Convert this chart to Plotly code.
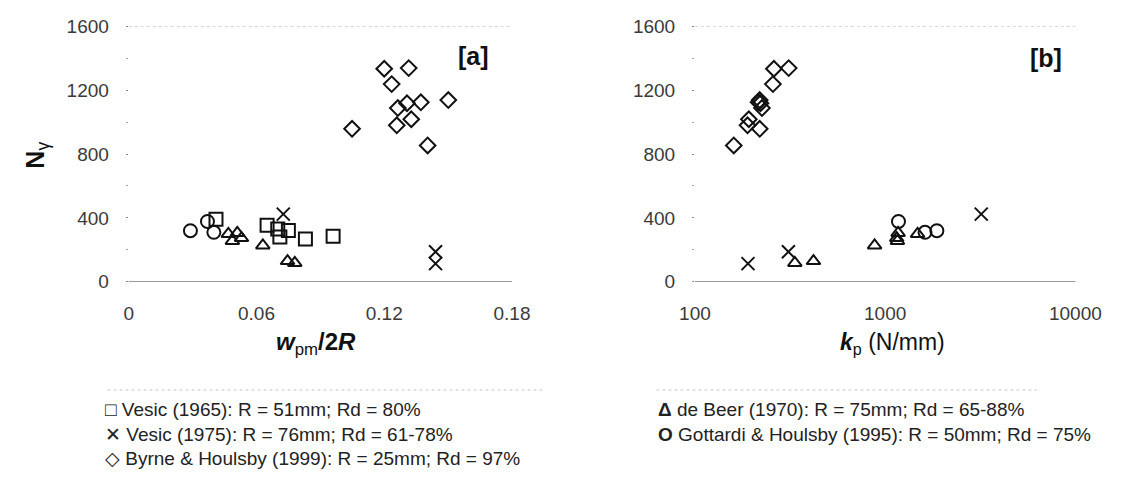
import plotly.graph_objects as go

W, H = 1137, 490

# Vesic (1965): R = 51mm
ves65_w = [0.041, 0.065, 0.070, 0.071, 0.075, 0.083, 0.096]
ves65_N = [392, 354, 330, 280, 322, 268, 286]

# de Beer (1970): R = 75mm
beer_w = [0.0468, 0.0487, 0.051, 0.053, 0.063, 0.0746, 0.078]
beer_N = [300, 256, 306, 274, 228, 130, 118]
beer_kp = [1480, 1160, 1170, 1150, 880, 420, 335]

# Vesic (1975): R = 76mm
ves75_w = [0.0726, 0.1441, 0.1441]
ves75_N = [424, 188, 114]
ves75_kp = [3200, 310, 190]

# Gottardi & Houlsby (1995): R = 50mm
gh_w = [0.029, 0.037, 0.040]
gh_N = [320, 378, 310]
gh_kp = [1870, 1175, 1620]

# Byrne & Houlsby (1999): R = 25mm
bh_w = [0.120, 0.1315, 0.1235, 0.1264, 0.1307, 0.1372, 0.1501, 0.1049, 0.1259, 0.1327, 0.1404]
bh_N = [1334, 1338, 1238, 1088, 1118, 1124, 1138, 958, 980, 1018, 854]
bh_kp = [260, 311, 257, 225, 221, 216, 219, 219, 189, 192, 160]

y_ticks = [0, 400, 800, 1200, 1600]
xa_ticks = [0, 0.06, 0.12, 0.18]
xa_text = ["0", "0.06", "0.12", "0.18"]
xb_ticks = [100, 1000, 10000]
xb_text = ["100", "1000", "10000"]

legend_entries = [
    ("\u25A1", "Vesic (1965): R = 51mm; Rd = 80%"),
    ("\u2715", "Vesic (1975): R = 76mm; Rd = 61-78%"),
    ("\u25C7", "Byrne & Houlsby (1999): R = 25mm; Rd = 97%"),
    ("<b>\u0394</b>", "de Beer (1970): R = 75mm; Rd = 65-88%"),
    ("<b>O</b>", "Gottardi & Houlsby (1995): R = 50mm; Rd = 75%"),
]

FONT = "Liberation Sans, Arial, sans-serif"
INK = "#111111"


def px_x(p):
    return p / W


def px_y(p):
    return 1 - p / H


def marker(symbol, size):
    return dict(symbol=symbol, size=size, color=INK, line=dict(color=INK, width=2))


series = [
    (ves65_w, ves65_N, None, "square-open", 13),
    (beer_w, beer_N, beer_kp, "triangle-up-open", 12),
    (ves75_w, ves75_N, ves75_kp, "x-thin-open", 13),
    (gh_w, gh_N, gh_kp, "circle-open", 13),
    (bh_w, bh_N, bh_kp, "diamond-open", 12),
]

fig = go.Figure()
for w, n, kp, sym, size in series:
    fig.add_trace(go.Scatter(x=w, y=n, mode="markers", marker=marker(sym, size),
                             xaxis="x", yaxis="y", showlegend=False, hoverinfo="skip"))
    if kp is not None:
        fig.add_trace(go.Scatter(x=kp, y=n, mode="markers", marker=marker(sym, size),
                                 xaxis="x2", yaxis="y2", showlegend=False, hoverinfo="skip"))

a_dom = [px_x(117), px_x(515)]
b_dom = [px_x(705), px_x(1100)]
y_dom = [px_y(284), px_y(17)]

tickfont = dict(family=FONT, size=19, color="#3a3a3a")

yaxis_common = dict(
    domain=y_dom, range=[0, 1600], tickvals=y_ticks, showgrid=False, zeroline=False,
    showline=False, ticks="outside", ticklen=2, tickwidth=1, tickcolor="#888",
    minor=dict(dtick=200, tick0=0, ticks="outside", ticklen=2, tickcolor="#aaa"),
    tickfont=tickfont, ticklabelstandoff=13,
)

fig.update_layout(
    width=W, height=H,
    margin=dict(l=0, r=0, t=0, b=0),
    paper_bgcolor="white", plot_bgcolor="white",
    xaxis=dict(domain=a_dom, range=[0, 0.18], tickvals=xa_ticks, ticktext=xa_text,
               showgrid=False, zeroline=False, showline=False, ticks="",
               tickfont=tickfont, anchor="y", ticklabelstandoff=18),
    yaxis=dict(anchor="x", **yaxis_common),
    xaxis2=dict(domain=b_dom, type="log", range=[2, 4], tickvals=xb_ticks, ticktext=xb_text,
                showgrid=False, zeroline=False, showline=False, ticks="",
                tickfont=tickfont, anchor="y2", ticklabelstandoff=18),
    yaxis2=dict(anchor="x2", **yaxis_common),
    showlegend=False,
)

# Axis baselines at N = 0 and dotted upper bound at N = 1600
for xr, yr in (("x domain", "y"), ("x2 domain", "y2")):
    fig.add_shape(type="line", xref=xr, yref=yr, x0=0, x1=1, y0=0, y1=0,
                  line=dict(color="#777", width=1.5), layer="below")
    fig.add_shape(type="line", xref=xr, yref=yr, x0=0, x1=1, y0=1600, y1=1600,
                  line=dict(color="#bbb", width=1, dash="dot"), layer="below")


def text_at(text, x, y, size, xanchor="center", yanchor="middle", angle=0, color=INK):
    return dict(text=text, x=px_x(x), y=px_y(y), xref="paper", yref="paper",
                xanchor=xanchor, yanchor=yanchor, textangle=angle, showarrow=False,
                font=dict(family=FONT, size=size, color=color))


ann = [
    text_at("<b><i>w</i></b><sub>pm</sub><b>/2<i>R</i></b>", 312, 348, 24),
    text_at("<b><i>k</i></b><sub>p</sub> (N/mm)", 910, 348, 23),
    text_at("<b>N</b><sub>\u03b3</sub>", 22, 152, 25, angle=-90),
    text_at("<b>[a]</b>", 493, 48, 25, xanchor="right"),
    text_at("<b>[b]</b>", 1088, 50, 25, xanchor="right"),
]

# Legend block below the panels
rows_y = [417, 443, 469]
cols_x = [90, 665]
slots = [(0, 0), (0, 1), (0, 2), (1, 0), (1, 1)]
for (sym, label), (c, r) in zip(legend_entries, slots):
    ann.append(text_at(sym + " " + label, cols_x[c], rows_y[r], 19,
                       xanchor="left", color="#222"))
fig.update_layout(annotations=ann)

# Faint dotted rules above the legend columns
for x0, x1 in ((95, 550), (665, 1060)):
    fig.add_shape(type="line", xref="paper", yref="paper", x0=px_x(x0), x1=px_x(x1),
                  y0=px_y(397), y1=px_y(397), line=dict(color="#c8c8c8", width=1, dash="dot"))

fig.write_html("out.html")
